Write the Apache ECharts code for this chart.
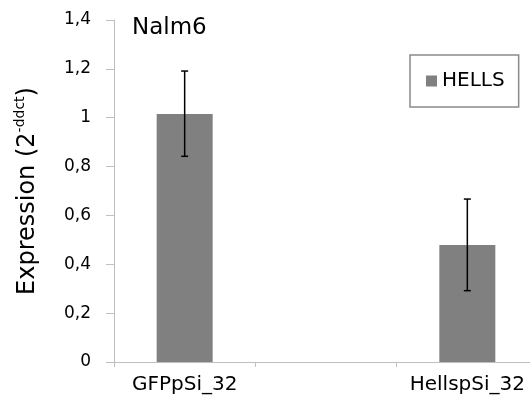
<!DOCTYPE html>
<html>
<head>
<meta charset="utf-8">
<script src="https://cdn.jsdelivr.net/npm/echarts@6/dist/echarts.min.js"></script>
<style>
html,body{margin:0;padding:0;background:#fff;}
#chart{width:530px;height:399px;}
</style>
</head>
<body>
<div id="chart"></div>
<script>
var categories = ['GFPpSi_32', '', 'HellspSi_32'];
var hellsValues = [1.015, null, 0.479];
var errLow = [0.842, null, 0.292];
var errHigh = [1.191, null, 0.667];
var yTicks = ['0', '0,2', '0,4', '0,6', '0,8', '1', '1,2', '1,4'];

var FONT = 'DejaVu Sans';
var chart = echarts.init(document.getElementById('chart'));

var errData = [];
categories.forEach(function (c, i) {
  if (errLow[i] != null) errData.push([i, errLow[i], errHigh[i]]);
});

chart.setOption({
  animation: false,
  backgroundColor: '#fff',
  title: {
    text: 'Nalm6',
    left: 132, top: 17, padding: 0,
    textStyle: {fontFamily: FONT, fontSize: 23, fontWeight: 'normal', color: '#000'}
  },
  legend: {
    data: ['HELLS'],
    left: 410, top: 55,
    padding: [16, 14, 16, 16],
    borderColor: '#8a8a8a', borderWidth: 1.5,
    itemWidth: 11, itemHeight: 11,
    icon: 'rect',
    textStyle: {fontFamily: FONT, fontSize: 20, color: '#000'}
  },
  grid: {left: 114, right: -8, top: 20, bottom: 37, outerBoundsMode: 'none'},
  xAxis: {
    type: 'category',
    data: categories,
    axisLine: {lineStyle: {color: '#bfbfbf', width: 1}},
    axisTick: {show: true, length: 5, lineStyle: {color: '#bfbfbf'}},
    axisLabel: {fontFamily: FONT, fontSize: 20, color: '#000', margin: 13, interval: 0}
  },
  yAxis: {
    type: 'value',
    min: 0, max: 1.4, interval: 0.2,
    name: 'Expression (2{sup|-ddct})',
    nameLocation: 'middle',
    nameGap: 72,
    nameTextStyle: {
      fontFamily: FONT, fontSize: 24, color: '#000',
      rich: {sup: {fontFamily: FONT, fontSize: 14, color: '#000', verticalAlign: 'top', lineHeight: 29}}
    },
    axisLine: {show: true, lineStyle: {color: '#bfbfbf', width: 1}},
    axisTick: {show: true, length: 8, lineStyle: {color: '#bfbfbf'}},
    splitLine: {show: false},
    axisLabel: {
      fontFamily: FONT, fontSize: 17, color: '#000', margin: 23,
      formatter: function (v) { return yTicks[Math.round(v / 0.2)]; }
    }
  },
  series: [
    {
      name: 'HELLS',
      type: 'bar',
      data: hellsValues.map(function (v) { return v == null ? '-' : v; }),
      barWidth: 56,
      itemStyle: {color: '#808080'}
    },
    {
      name: 'err',
      type: 'custom',
      data: errData,
      encode: {x: 0, y: [1, 2]},
      z: 10,
      renderItem: function (params, api) {
        var x = api.value(0);
        var lo = api.coord([x, api.value(1)]);
        var hi = api.coord([x, api.value(2)]);
        var hw = 3.5;
        var st = {stroke: '#000', lineWidth: 1.5};
        return {
          type: 'group',
          children: [
            {type: 'line', shape: {x1: lo[0], y1: lo[1], x2: hi[0], y2: hi[1]}, style: st},
            {type: 'line', shape: {x1: lo[0] - hw, y1: lo[1], x2: lo[0] + hw, y2: lo[1]}, style: st},
            {type: 'line', shape: {x1: hi[0] - hw, y1: hi[1], x2: hi[0] + hw, y2: hi[1]}, style: st}
          ]
        };
      }
    }
  ]
});
</script>
</body>
</html>
